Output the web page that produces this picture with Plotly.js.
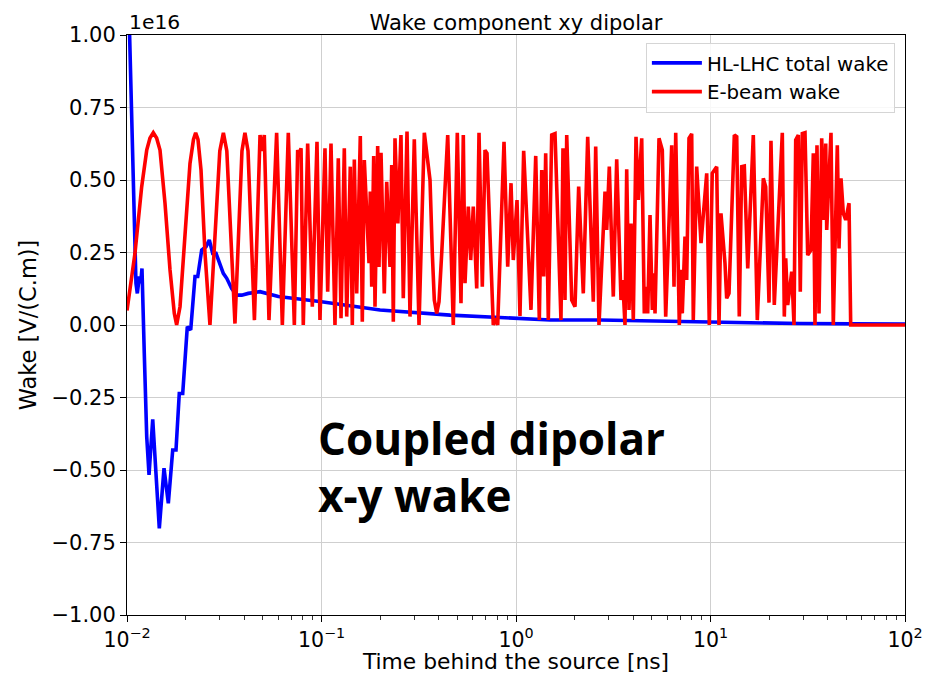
<!DOCTYPE html>
<html>
<head>
<meta charset="utf-8">
<script src="https://cdn.plot.ly/plotly-3.0.1.min.js"></script>
<style>
  html, body { margin: 0; padding: 0; background: #ffffff; }
  #chart { width: 927px; height: 674px; }
</style>
</head>
<body>
<div id="chart"></div>
<script>
// Time behind the source [ns] and wake amplitude (in units of 1e16 V/(C.m))
const hlTime = [0.01, 0.01028, 0.01057, 0.0109, 0.01112, 0.0113, 0.01157, 0.01176, 0.01194, 0.01227,
  0.01263, 0.01298, 0.01356, 0.01409, 0.01466, 0.0155, 0.01631, 0.01718, 0.01786, 0.01857,
  0.01934, 0.02042, 0.02126, 0.02237, 0.0231, 0.02422, 0.02548, 0.02649, 0.02758, 0.02869,
  0.02983, 0.03127, 0.03256, 0.03454, 0.03664, 0.03889, 0.04205, 0.0483, 0.06, 0.0775,
  0.1, 0.2, 0.458, 0.827, 1.5, 2.7, 11.2, 28.8, 100];
const hlWake = [1.35, 1.006, 0.662, 0.316, 0.144, 0.109, 0.167, 0.144, 0.195, -0.098,
  -0.385, -0.517, -0.325, -0.511, -0.701, -0.494, -0.615, -0.431, -0.431, -0.236,
  -0.236, -0.006, -0.017, 0.167, 0.167, 0.259, 0.27, 0.293, 0.247, 0.247,
  0.218, 0.178, 0.161, 0.126, 0.103, 0.103, 0.109, 0.115, 0.098, 0.09,
  0.08, 0.052, 0.034, 0.026, 0.017, 0.017, 0.008, 0.005, 0.003];

const eTime = [0.01, 0.01099, 0.0119, 0.01263, 0.01313, 0.01365, 0.0142, 0.01478, 0.01568, 0.01664,
  0.01751, 0.018, 0.01873, 0.01987, 0.02108, 0.02197, 0.02254, 0.02317, 0.02402, 0.02518,
  0.0267, 0.0300, 0.0313, 0.0326, 0.0359, 0.0390, 0.0404, 0.0419, 0.0452, 0.0483,
  0.0495, 0.0508, 0.0537, 0.0588, 0.0629, 0.0675, 0.0725, 0.0754, 0.0766, 0.0785,
  0.0806, 0.0849, 0.0897, 0.0948, 0.0982, 0.1042, 0.1076, 0.1119, 0.1173, 0.122,
  0.126, 0.131, 0.1348, 0.1406, 0.144, 0.1475, 0.1517, 0.1583, 0.1621, 0.166,
  0.1755, 0.1782, 0.1812, 0.1855, 0.1884, 0.1945, 0.1975, 0.2023, 0.2103, 0.2164,
  0.225, 0.2296, 0.234, 0.2387, 0.247, 0.2562, 0.2633, 0.2752, 0.2851, 0.300,
  0.3172, 0.3378, 0.3613, 0.3713, 0.3802, 0.3912, 0.4019, 0.415, 0.4303, 0.4456,
  0.476, 0.4991, 0.5214, 0.5359, 0.5468, 0.5685, 0.5849, 0.6031, 0.6281, 0.6454,
  0.6711, 0.6928, 0.7095, 0.7642, 0.7862, 0.8051, 0.8677, 0.9065, 0.9426, 0.9685,
  1.012, 1.048, 1.095, 1.194, 1.263, 1.318, 1.356, 1.388, 1.421, 1.466,
  1.526, 1.587, 1.703, 1.744, 1.786, 1.823, 1.934, 2.011, 2.10, 2.218,
  2.337, 2.497, 2.569, 2.671, 2.869, 2.927, 3.018, 3.164, 3.294, 3.466,
  3.537, 3.634, 3.708, 3.811, 3.902, 4.01, 4.14, 4.255, 4.429, 4.567,
  4.676, 4.754, 4.887, 5.022, 5.124, 5.185, 5.436, 5.652, 5.884, 6.318,
  6.492, 6.624, 6.912, 7.052, 7.161, 7.394, 7.544, 7.753, 8.004, 8.157,
  8.49, 8.939, 9.561, 9.859, 10.21, 10.76, 11.06, 11.32, 11.87, 12.11,
  12.45, 13.26, 13.64, 14.06, 14.47, 14.92, 15.54, 16.6, 17.4, 18.69,
  19.22, 19.99, 20.46, 21.28, 23.4, 23.96, 24.36, 24.94, 26.16, 26.88,
  27.42, 28.28, 28.95, 29.65, 30.61, 31.6, 32.86, 33.78, 34.45, 35.28,
  36.13, 37.3, 38.33, 39.12, 39.58, 41.64, 42.79, 44.87, 45.79, 46.88,
  48.18, 49.56, 51.54, 52.58, 100];
const eWake = [0.05, 0.247, 0.477, 0.603, 0.645, 0.663, 0.645, 0.603, 0.42, 0.19,
  0.04, 0.0, 0.063, 0.305, 0.557, 0.64, 0.663, 0.64, 0.534, 0.247,
  0.0, 0.60, 0.663, 0.60, 0.005, 0.60, 0.663, 0.60, 0.017, 0.655,
  0.60, 0.655, 0.017, 0.663, 0.0, 0.663, 0.0, 0.603, 0.59, 0.609,
  0.0, 0.626, 0.063, 0.632, 0.017, 0.609, 0.115, 0.626, 0.0, 0.575,
  0.023, 0.609, 0.029, 0.546, 0.0, 0.571, 0.109, 0.652, 0.011, 0.569,
  0.213, 0.46, 0.132, 0.583, 0.063, 0.617, 0.2, 0.594, 0.109, 0.494,
  0.2, 0.552, 0.011, 0.644, 0.35, 0.655, 0.092, 0.667, 0.029, 0.64,
  0.0, 0.663, 0.5, 0.247, 0.086, 0.04, 0.08, 0.247, 0.477, 0.655,
  0.0, 0.663, 0.075, 0.655, 0.144, 0.408, 0.224, 0.408, 0.126, 0.663,
  0.132, 0.603, 0.592, 0.0, 0.023, 0.0, 0.632, 0.201, 0.489, 0.224,
  0.431, 0.031, 0.601, 0.052, 0.583, 0.017, 0.534, 0.167, 0.592, 0.017,
  0.655, 0.66, 0.017, 0.609, 0.086, 0.655, 0.086, 0.063, 0.477, 0.109,
  0.649, 0.08, 0.615, 0.0, 0.46, 0.328, 0.546, 0.098, 0.571, 0.086,
  0.155, 0.0, 0.537, 0.052, 0.35, 0.017, 0.649, 0.431, 0.644, 0.04,
  0.132, 0.04, 0.379, 0.052, 0.178, 0.04, 0.644, 0.603, 0.029, 0.62,
  0.132, 0.663, 0.0, 0.19, 0.04, 0.305, 0.155, 0.644, 0.659, 0.017,
  0.546, 0.282, 0.523, 0.0, 0.523, 0.546, 0.0, 0.385, 0.213, 0.092,
  0.109, 0.655, 0.649, 0.029, 0.546, 0.548, 0.195, 0.655, 0.017, 0.506,
  0.477, 0.077, 0.635, 0.069, 0.663, 0.029, 0.23, 0.069, 0.184, 0.0,
  0.638, 0.655, 0.115, 0.66, 0.663, 0.241, 0.259, 0.592, 0.0, 0.62,
  0.04, 0.644, 0.362, 0.626, 0.328, 0.663, 0.0, 0.62, 0.264, 0.506,
  0.385, 0.362, 0.42, 0.0, 0.0];

const xTickVals = [0.01, 0.1, 1, 10, 100];
const xTickText = ['10<sup>\u22122</sup>', '10<sup>\u22121</sup>', '10<sup>0</sup>', '10<sup>1</sup>', '10<sup>2</sup>'];
const yTickVals = [-1, -0.75, -0.5, -0.25, 0, 0.25, 0.5, 0.75, 1];

const FONT = 'DejaVu Sans, sans-serif';

const traces = [
  {
    x: hlTime, y: hlWake, type: 'scatter', mode: 'lines',
    name: 'HL-LHC total wake',
    line: { color: '#0000ff', width: 3.6 }
  },
  {
    x: eTime, y: eWake, type: 'scatter', mode: 'lines',
    name: 'E-beam wake',
    line: { color: '#ff0000', width: 3.6 }
  }
];

const layout = {
  width: 927, height: 674,
  margin: { l: 127, r: 22, t: 35, b: 59 },
  paper_bgcolor: '#ffffff', plot_bgcolor: '#ffffff',
  font: { family: FONT, size: 20, color: '#000000' },
  title: {
    text: 'Wake component xy dipolar',
    font: { family: FONT, size: 21, color: '#000000' },
    x: 0.5, xref: 'paper', xanchor: 'center',
    y: 1, yref: 'paper', yanchor: 'bottom', pad: { b: 5 }
  },
  showlegend: true,
  legend: {
    x: 0.987, xanchor: 'right', y: 0.987, yanchor: 'top',
    bgcolor: 'rgba(255,255,255,0.85)', bordercolor: '#d5d5d5', borderwidth: 1,
    font: { family: FONT, size: 19.8, color: '#000000' },
    itemwidth: 50,
    tracegroupgap: 0
  },
  xaxis: {
    type: 'log',
    range: [-2, 2],
    tickmode: 'array', tickvals: xTickVals, ticktext: xTickText,
    ticks: 'outside', ticklen: 6, tickwidth: 1, tickcolor: '#000000',
    minor: { ticks: 'outside', ticklen: 3.5, tickwidth: 0.8, tickcolor: '#000000', dtick: 'D1', showgrid: false },
    showgrid: true, gridcolor: '#cfcfcf', gridwidth: 1,
    showline: true, linecolor: '#000000', linewidth: 1, mirror: true,
    zeroline: false,
    tickfont: { family: FONT, size: 20.5, color: '#000000' },
    title: { text: 'Time behind the source [ns]', font: { family: FONT, size: 21.8, color: '#000000' }, standoff: 7 }
  },
  yaxis: {
    range: [-1, 1],
    tickmode: 'array', tickvals: yTickVals, tickformat: '.2f',
    ticks: 'outside', ticklen: 6, tickwidth: 1, tickcolor: '#000000',
    showgrid: true, gridcolor: '#cfcfcf', gridwidth: 1,
    showline: true, linecolor: '#000000', linewidth: 1, mirror: true,
    zeroline: false,
    tickfont: { family: FONT, size: 21, color: '#000000' },
    title: { text: 'Wake [V/(C.m)]', font: { family: FONT, size: 22.5, color: '#000000' }, standoff: 8 }
  },
  annotations: [
    {
      text: '1e16', xref: 'paper', yref: 'paper', x: 0, y: 1,
      xanchor: 'left', yanchor: 'bottom', showarrow: false, yshift: -1,
      font: { family: FONT, size: 20.3, color: '#000000' }
    },
    {
      text: '<b>Coupled dipolar<br>x-y wake</b>', xref: 'paper', yref: 'paper',
      x: 0.2435, y: 0.36, xanchor: 'left', yanchor: 'top', align: 'left',
      showarrow: false,
      font: { family: 'Open Sans, sans-serif', size: 44, color: '#000000', weight: 700 }
    }
  ]
};

Plotly.newPlot('chart', traces, layout, { staticPlot: true, displayModeBar: false });
</script>
</body>
</html>
